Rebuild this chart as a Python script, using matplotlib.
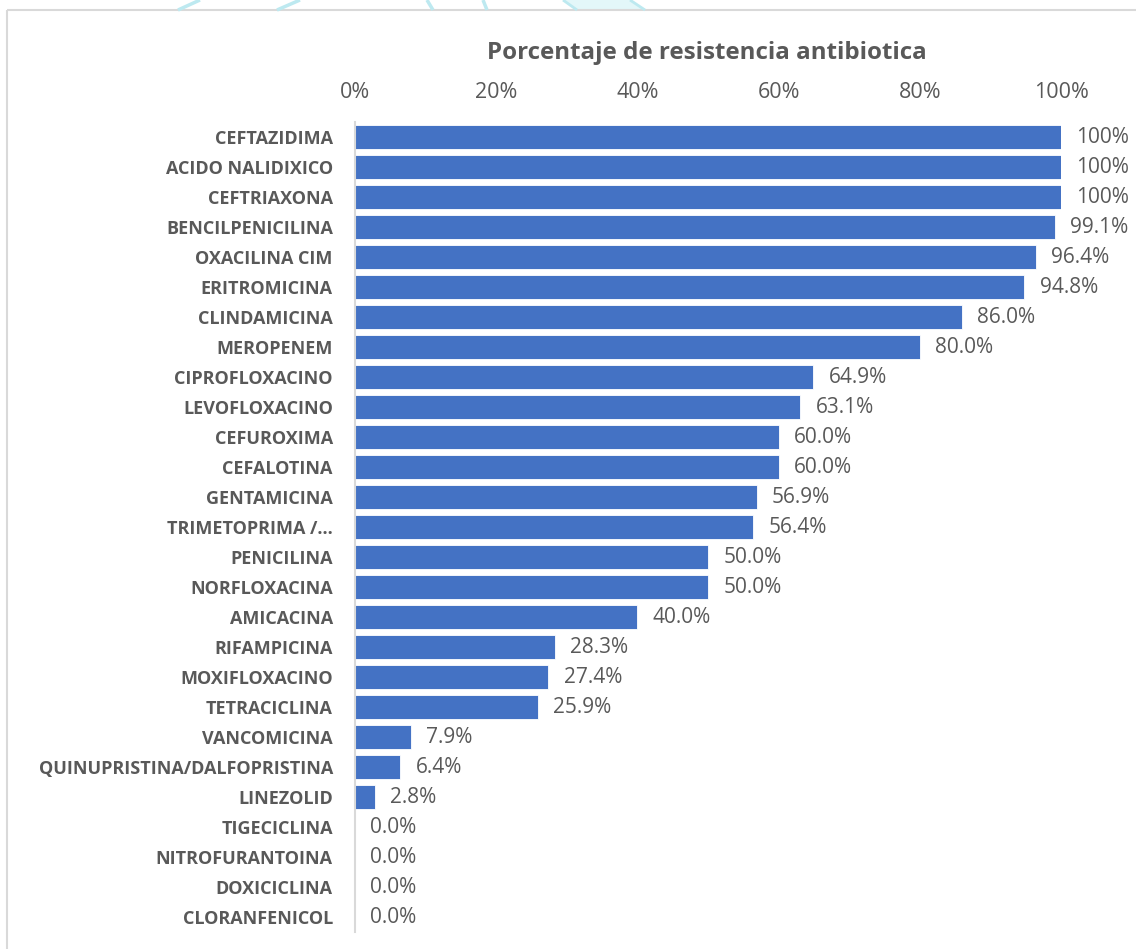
import numpy as np
import matplotlib.pyplot as plt
from matplotlib.patches import Rectangle, Polygon

# --- Data ---
antibioticos = [
    "CEFTAZIDIMA", "ACIDO NALIDIXICO", "CEFTRIAXONA", "BENCILPENICILINA",
    "OXACILINA CIM", "ERITROMICINA", "CLINDAMICINA", "MEROPENEM",
    "CIPROFLOXACINO", "LEVOFLOXACINO", "CEFUROXIMA", "CEFALOTINA",
    "GENTAMICINA", "TRIMETOPRIMA /…", "PENICILINA", "NORFLOXACINA",
    "AMICACINA", "RIFAMPICINA", "MOXIFLOXACINO", "TETRACICLINA",
    "VANCOMICINA", "QUINUPRISTINA/DALFOPRISTINA", "LINEZOLID",
    "TIGECICLINA", "NITROFURANTOINA", "DOXICICLINA", "CLORANFENICOL",
]
resistencia = [
    100.0, 100.0, 100.0, 99.1, 96.4, 94.8, 86.0, 80.0, 64.9, 63.1,
    60.0, 60.0, 56.9, 56.4, 50.0, 50.0, 40.0, 28.3, 27.4, 25.9,
    7.9, 6.4, 2.8, 0.0, 0.0, 0.0, 0.0,
]
ticks = [0, 20, 40, 60, 80, 100]

BAR = "#4472C4"
TXT = "#595959"
plt.rcParams['font.family'] = ['Open Sans', 'DejaVu Sans']

fig = plt.figure(figsize=(11.36, 9.49), dpi=100)
W, H = 1136, 949

# page background: faint decorative strokes and the chart frame
bg = fig.add_axes([0, 0, 1, 1], zorder=-5)
bg.set_xlim(0, W)
bg.set_ylim(H, 0)
bg.axis("off")
for (xa, xb) in [(200, 178), (300, 277), (427, 433), (483, 487)]:
    bg.plot([xa, xb], [0, 10], color="#bde9f0", lw=2.5, solid_capstyle="butt")
bg.add_patch(Polygon([(563, 0), (630, 0), (645, 10), (577, 10)],
                     closed=True, fc="#e3f7f9", ec="none"))
for (xa, xb) in [(563, 577), (630, 645)]:
    bg.plot([xa, xb], [0, 10], color="#bde9f0", lw=2, solid_capstyle="butt")
bg.add_patch(Rectangle((7, 10), W, H, fill=False, ec="#d9d9d9", lw=1.5))

# plot area: 0% at x=355, 100% at x=1061; bars from y=122 to y=932
ax = fig.add_axes([355 / W, 1 - 932 / H, (1061 - 355) / W, (932 - 122) / H])
y = np.arange(len(antibioticos))
ax.barh(y, resistencia, height=0.8, color=BAR, edgecolor="white", linewidth=0.6)
ax.set_ylim(len(antibioticos) - 0.5, -0.5)
ax.set_xlim(0, 100)

ax.xaxis.tick_top()
ax.set_xticks(ticks)
ax.set_xticklabels([f"{t}%" for t in ticks], fontsize=15.5, color=TXT)
ax.tick_params(axis="x", length=0, pad=14)
ax.set_yticks(y)
ax.set_yticklabels(antibioticos, fontsize=13, fontweight="bold", color=TXT)
ax.tick_params(axis="y", length=0, pad=16)

for s in ["top", "right", "bottom"]:
    ax.spines[s].set_visible(False)
ax.spines["left"].set_color("#d9d9d9")
ax.spines["left"].set_linewidth(1.5)

for yi, v in zip(y, resistencia):
    lbl = "100%" if v >= 100 else f"{v:.1f}%"
    ax.annotate(lbl, (v, yi), xytext=(11, 0), textcoords="offset points",
                va="center", ha="left", fontsize=15, color=TXT)

fig.text(707 / W, 1 - 53 / H, "Porcentaje de resistencia antibiotica",
         ha="center", va="center", fontsize=17.4, fontweight="bold", color=TXT)

fig.savefig("out.png", dpi=100)
